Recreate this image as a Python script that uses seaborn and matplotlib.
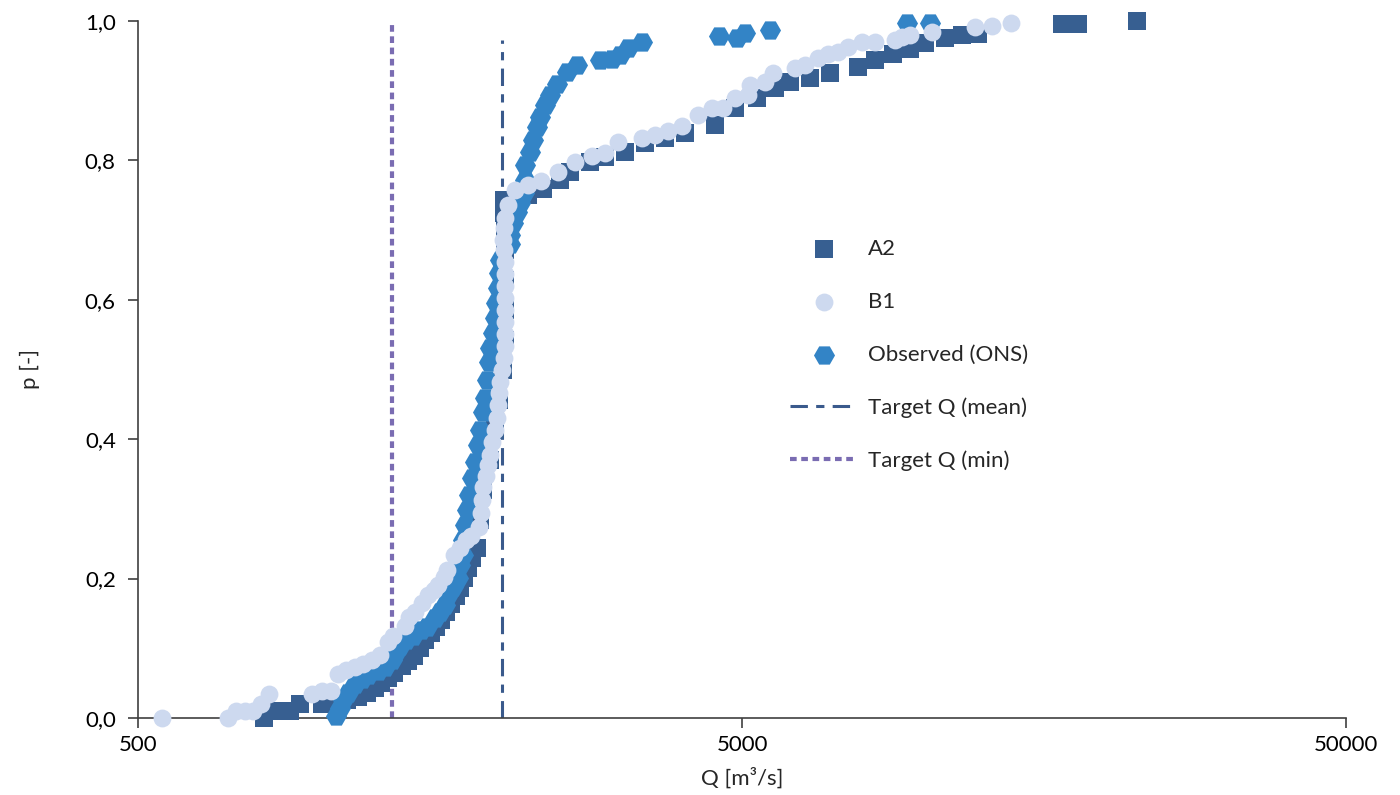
import numpy as np
import pandas as pd
import matplotlib
matplotlib.use("Agg")
import matplotlib.pyplot as plt
import seaborn as sns
from matplotlib.ticker import NullLocator

a2_q = [808, 846, 893, 927, 1008, 1059, 1109, 1157, 1197, 1234, 1263, 1297, 1327, 1368,
        1400, 1432, 1465, 1493, 1528, 1557, 1587, 1618, 1649, 1681, 1706, 1733, 1759, 1786,
        1821, 1842, 1863, 1913, 1950, 1980, 2010, 2026, 2026, 2026, 2026, 2026, 2018, 2018,
        2112, 2211, 2341, 2498, 2595, 2801, 2966, 3201, 3454, 3728, 4023, 4511, 4868, 5294,
        5671, 6004, 6480, 6993, 7780, 8302, 8891, 9487, 10045, 10841, 11566, 12292, 16931,
        18003, 22539]
a2_p = [0.0, 0.010, 0.010, 0.020, 0.020, 0.020, 0.026, 0.030, 0.036, 0.043, 0.050, 0.057,
        0.065, 0.075, 0.082, 0.089, 0.100, 0.112, 0.122, 0.131, 0.141, 0.152, 0.164, 0.175,
        0.187, 0.201, 0.215, 0.230, 0.244, 0.284, 0.327, 0.370, 0.413, 0.456, 0.499,
        0.542, 0.585, 0.628, 0.671, 0.700, 0.725, 0.743, 0.747, 0.750, 0.759, 0.772, 0.783, 0.798,
        0.805, 0.812, 0.825, 0.832, 0.839, 0.851, 0.875, 0.890, 0.904, 0.912, 0.918, 0.925,
        0.934, 0.944, 0.953, 0.960, 0.968, 0.976, 0.980, 0.981, 0.996, 0.996, 1.0]

b1_q = [548, 705, 726, 752, 775, 799, 824, 971, 1008, 1043, 1072, 1105, 1143, 1179, 1220,
        1258, 1297, 1322, 1384, 1405, 1437, 1476, 1510, 1545, 1569, 1605, 1624, 1668, 1706,
        1746, 1779, 1835, 1849, 1856, 1863, 1884, 1899, 1913, 1928, 1950, 1965, 1972, 1980,
        1988, 2003, 2018, 2026, 2026, 2026, 2026, 2026, 2026, 2026, 2026, 2018, 2010, 2018,
        2026, 2049, 2104, 2211, 2324, 2479, 2645, 2822, 2966, 3117, 3415, 3589, 3771, 3978,
        4228, 4459, 4651, 4868, 5115, 5155, 5459, 5627, 6120, 6358, 6680, 6940, 7210, 7490,
        7900, 8302, 8959, 9202, 9487, 10317, 12153, 12967, 13940]
b1_p = [0.0, 0.0, 0.010, 0.010, 0.010, 0.020, 0.034, 0.034, 0.039, 0.039, 0.063, 0.069,
        0.073, 0.077, 0.083, 0.090, 0.109, 0.118, 0.132, 0.145, 0.152, 0.165, 0.176, 0.184,
        0.191, 0.202, 0.212, 0.234, 0.244, 0.255, 0.261, 0.274, 0.294, 0.313, 0.331, 0.347,
        0.363, 0.377, 0.396, 0.413, 0.430, 0.449, 0.466, 0.482, 0.499, 0.516, 0.534, 0.551,
        0.568, 0.585, 0.603, 0.620, 0.637, 0.654, 0.671, 0.686, 0.703, 0.717, 0.736, 0.758,
        0.765, 0.770, 0.783, 0.798, 0.806, 0.811, 0.826, 0.832, 0.836, 0.842, 0.849, 0.865,
        0.875, 0.875, 0.890, 0.894, 0.908, 0.912, 0.925, 0.933, 0.937, 0.947, 0.953, 0.956,
        0.963, 0.970, 0.970, 0.973, 0.977, 0.980, 0.984, 0.991, 0.993, 0.997]

obs_q = [1063, 1080, 1092, 1113, 1143, 1174, 1201, 1248, 1282, 1317, 1337, 1357, 1389, 1427,
         1471, 1505, 1551, 1581, 1612, 1630, 1661, 1693, 1706, 1726, 1726, 1739, 1753, 1766,
         1786, 1807, 1828, 1842, 1863, 1877, 1891, 1906, 1913, 1935, 1950, 1957, 1972, 1980,
         1988, 2065, 2065, 2088, 2121, 2145, 2178, 2186, 2186, 2228, 2254, 2289, 2315, 2359,
         2405, 2470, 2566, 2666, 2910, 3046, 3140, 3238, 3415, 4580, 4905, 5057, 5563, 9379,
         10238]
obs_p = [0.003, 0.014, 0.026, 0.036, 0.049, 0.056, 0.062, 0.067, 0.073, 0.083, 0.095, 0.103,
         0.112, 0.118, 0.126, 0.131, 0.143, 0.152, 0.162, 0.176, 0.188, 0.201, 0.220, 0.234,
         0.255, 0.277, 0.298, 0.320, 0.344, 0.367, 0.392, 0.413, 0.439, 0.459, 0.485, 0.511,
         0.531, 0.552, 0.574, 0.595, 0.617, 0.638, 0.657, 0.680, 0.693, 0.710, 0.726, 0.739,
         0.753, 0.772, 0.793, 0.812, 0.829, 0.848, 0.862, 0.879, 0.894, 0.910, 0.927, 0.937,
         0.944, 0.946, 0.951, 0.961, 0.970, 0.978, 0.976, 0.983, 0.987, 0.997, 0.997]

target_names = ["Target Q (mean)", "Target Q (min)"]
target_q = [2005, 1314]
target_top = [0.973, 1.0]

sns.set_theme(style="ticks")
plt.rcParams["font.family"] = ["Lato", "DejaVu Sans"]
plt.rcParams["font.size"] = 16

fig = plt.figure(figsize=(14, 7.95), dpi=100)
ax = fig.add_axes([0.0986, 0.0969, 0.8629, 0.8767])

c_a2 = "#375F91"
c_b1 = "#CDD9EF"
c_obs = "#3384C6"

sns.scatterplot(x=a2_q, y=a2_p, marker="s", s=150, color=c_a2, linewidth=0,
                label="A2", ax=ax, clip_on=False, zorder=3)
sns.scatterplot(x=obs_q, y=obs_p, marker="H", s=230, color=c_obs, linewidth=0,
                label="Observed (ONS)", ax=ax, clip_on=False, zorder=4)
sns.scatterplot(x=b1_q, y=b1_p, marker="o", s=165, color=c_b1, linewidth=0,
                label="B1", ax=ax, clip_on=False, zorder=5)

ax.plot([target_q[0]] * 2, [0, target_top[0]], color="#3A5A8C", lw=2.2,
        linestyle=(0, (5.7, 2.7, 2.7, 2.7)), label=target_names[0], zorder=2)
ax.plot([target_q[1]] * 2, [0, target_top[1]], color="#7A6CB2", lw=3.0,
        linestyle=(0, (1.6, 1.1)), label=target_names[1], zorder=2)

ax.set_xscale("log")
ax.set_xlim(500, 50000)
ax.set_ylim(0, 1.0)
ax.set_xticks([500, 5000, 50000])
ax.set_xticklabels(["500", "5000", "50000"])
ax.xaxis.set_minor_locator(NullLocator())
yt = [0, 0.2, 0.4, 0.6, 0.8, 1.0]
ax.set_yticks(yt)
ax.set_yticklabels([f"{v:.1f}".replace(".", ",") for v in yt])

for side in ["top", "right"]:
    ax.spines[side].set_visible(False)
for side in ["left", "bottom"]:
    ax.spines[side].set_color("#404040")
    ax.spines[side].set_linewidth(1.2)
ax.tick_params(axis="both", direction="out", length=7, width=1.2, color="#404040",
               labelsize=16, labelcolor="black")
ax.tick_params(axis="x", pad=5)
ax.tick_params(axis="y", pad=9)

ax.set_xlabel("Q [m³/s]", fontsize=16, labelpad=9)
ax.set_ylabel("p [-]", fontsize=16, labelpad=32)

h, l = ax.get_legend_handles_labels()
order = ["A2", "B1", "Observed (ONS)", "Target Q (mean)", "Target Q (min)"]
hd = dict(zip(l, h))
ax.legend([hd[k] for k in order], order, loc="upper left", bbox_to_anchor=(0.54, 0.687),
          frameon=False, fontsize=16, handlelength=3.0, handletextpad=0.5,
          labelspacing=1.47, borderpad=0, borderaxespad=0, markerscale=1.0)

fig.savefig("out.png", dpi=100)
